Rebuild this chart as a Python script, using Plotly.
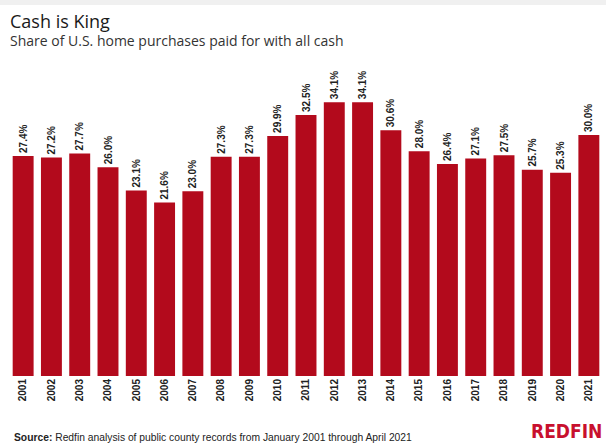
import plotly.graph_objects as go

years = [str(y) for y in range(2001, 2022)]
shares = [27.4, 27.2, 27.7, 26.0, 23.1, 21.6, 23.0, 27.3, 27.3, 29.9, 32.5,
          34.1, 34.1, 30.6, 28.0, 26.4, 27.1, 27.5, 25.7, 25.3, 30.0]
labels = [f"{v:.1f}%" for v in shares]

W, H = 606, 445
fig = go.Figure(go.Bar(
    x=years, y=shares, text=labels, textposition="outside", textangle=-90,
    cliponaxis=False, constraintext="none",
    textfont=dict(family="Liberation Sans, Arial", size=10, color="#222222", weight="bold"),
    marker=dict(color="#b30a1c", line=dict(width=0)),
))

x0, x1 = 9, 603
ytop, ybot = 60, 376
fig.update_layout(
    width=W, height=H, margin=dict(l=x0, r=W - x1, t=ytop, b=H - ybot),
    paper_bgcolor="white", plot_bgcolor="white", showlegend=False,
    bargap=0.26,
    xaxis=dict(tickangle=-90, showgrid=False, showline=False, ticks="",
               tickfont=dict(family="Liberation Sans, Arial", size=10, color="#222222", weight="bold")),
    yaxis=dict(range=[0, (ybot - ytop) / 8.03], visible=False),
    shapes=[dict(type="rect", xref="paper", yref="paper", x0=-x0 / (x1 - x0), x1=(W - x0) / (x1 - x0),
                 y0=1 + (ytop - 5) / (ybot - ytop), y1=1 + ytop / (ybot - ytop),
                 fillcolor="#f0f0f0", line=dict(width=0), layer="below")],
    annotations=[
        dict(text="Cash is King", xref="paper", yref="paper", x=-1 / (x1 - x0), y=1 + (ytop - 7) / (ybot - ytop),
             xanchor="left", yanchor="top", showarrow=False,
             font=dict(family="Open Sans, Arial", size=18, color="#1a1a1a")),
        dict(text="Share of U.S. home purchases paid for with all cash", xref="paper", yref="paper",
             x=-1 / (x1 - x0), y=1 + (ytop - 29) / (ybot - ytop), xanchor="left", yanchor="top", showarrow=False,
             font=dict(family="Open Sans, Arial", size=14, color="#333333")),
        dict(text="<b>Source:</b> Redfin analysis of public county records from January 2001 through April 2021",
             xref="paper", yref="paper", x=3 / (x1 - x0), y=-(430 - ybot) / (ybot - ytop),
             xanchor="left", yanchor="top", showarrow=False,
             font=dict(family="Liberation Sans, Arial", size=10.3, color="#222222")),
        dict(text="<b>REDFIN</b>", xref="paper", yref="paper", x=(604 - x0) / (x1 - x0),
             y=-(444 - ybot) / (ybot - ytop), xanchor="right", yanchor="bottom", showarrow=False,
             font=dict(family="DejaVu Sans Condensed, Liberation Sans Narrow, Arial", size=19, color="#c8102e")),
    ],
)
fig.write_html("out.html")
